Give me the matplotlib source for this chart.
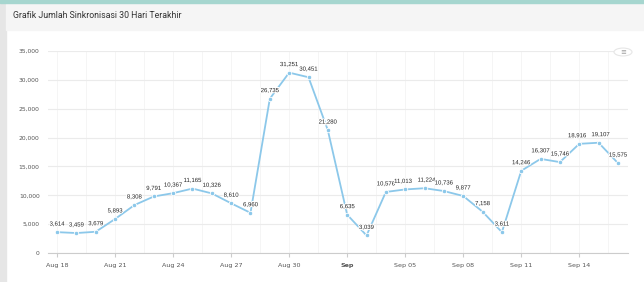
import matplotlib
matplotlib.use("Agg")
import matplotlib.pyplot as plt
from matplotlib.patches import Rectangle, Circle
import matplotlib.patheffects as pe

# data: daily sync counts, Aug 18 .. Sep 16
values = [3614, 3459, 3679, 5893, 8308, 9791, 10367, 11165, 10326, 8610,
          6960, 26735, 31251, 30451, 21280, 6635, 3039, 10576, 11013, 11224,
          10736, 9877, 7158, 3611, 14246, 16307, 15746, 18916, 19107, 15575]
tick_pos = [0, 3, 6, 9, 12, 15, 18, 21, 24, 27]
tick_labels = ["Aug 18", "Aug 21", "Aug 24", "Aug 27", "Aug 30",
               "Sep", "Sep 05", "Sep 08", "Sep 11", "Sep 14"]
y_ticks = [0, 5000, 10000, 15000, 20000, 25000, 30000, 35000]

W, H = 644, 282
fig = plt.figure(figsize=(W / 100, H / 100), dpi=100)
fig.patch.set_facecolor("white")

# page chrome: left strip, teal top line, header band
fig.patches.append(Rectangle((0, 0), 6 / W, 1, transform=fig.transFigure,
                             color="#e6e6e6", zorder=0))
fig.patches.append(Rectangle((6 / W, 1 - 30 / H), 1, 26 / H, transform=fig.transFigure,
                             color="#f5f5f5", zorder=0))
fig.patches.append(Rectangle((0, 1 - 3 / H), 1, 3 / H, transform=fig.transFigure,
                             color="#a6d6cf", zorder=0))
fig.text(13 / W, 1 - 16 / H, "Grafik Jumlah Sinkronisasi 30 Hari Terakhir",
         fontsize=6.3, family="Roboto", color="#333333", va="center", ha="left")

ax = fig.add_axes([48 / W, 29 / H, 580 / W, 202 / H])
x = list(range(len(values)))

ax.plot(x, values, color="#8cc8ea", lw=1.3, zorder=3,
        marker="o", ms=3.2, mfc="#8cc8ea", mec="white", mew=0.6)

# small sideways nudges where neighbouring labels would collide
nudge = {18: -1.5, 19: 1.5, 27: -1.5, 28: 1.5}
for xi, v in zip(x, values):
    ax.annotate(f"{v:,}", (xi, v), xytext=(nudge.get(xi, 0), 4),
                textcoords="offset points", ha="center", va="bottom",
                fontsize=4.3, color="#222222", family="Liberation Sans", zorder=4,
                path_effects=[pe.withStroke(linewidth=1.5, foreground="white")])

ax.set_xlim(-0.47, 29.52)
ax.set_ylim(0, 35000)
ax.set_yticks(y_ticks)
ax.set_yticklabels([f"{t:,}" for t in y_ticks], fontsize=4.3, color="#555555")
ax.set_xticks(tick_pos)
ax.set_xticklabels(tick_labels, fontsize=4.6, color="#555555")
ax.get_xticklabels()[5].set_fontweight("bold")
ax.set_xticks([i + 1.5 for i in tick_pos[:-1]] + [28.5], minor=True)

ax.grid(True, axis="y", color="#ebebeb", lw=0.8)
ax.grid(True, axis="x", which="both", color="#f4f4f4", lw=0.6)
ax.set_axisbelow(True)
for s in ["top", "right", "left"]:
    ax.spines[s].set_visible(False)
ax.spines["bottom"].set_color("#cccccc")
ax.spines["bottom"].set_linewidth(0.8)
ax.tick_params(axis="y", length=0, pad=6)
ax.tick_params(axis="x", which="major", length=3, color="#cccccc", pad=4)
ax.tick_params(axis="x", which="minor", length=0)

# context menu button
btn = Circle((623 / W, 1 - 52 / H), 9 / W, transform=fig.transFigure,
             facecolor="white", edgecolor="#e6e6e6", lw=0.8, zorder=5)
fig.patches.append(btn)
fig.text(623 / W, 1 - 52 / H, "≡", fontsize=5, color="#999999",
         ha="center", va="center", zorder=6)

fig.savefig("out.png", dpi=100)
